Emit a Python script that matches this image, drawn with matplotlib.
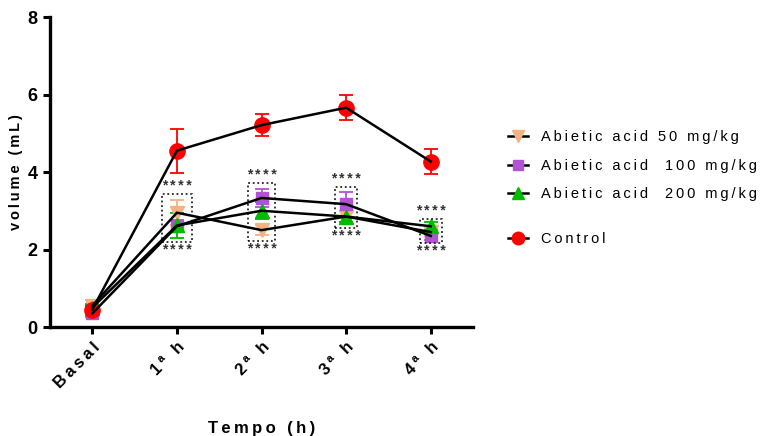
import matplotlib
matplotlib.use("Agg")
import matplotlib.pyplot as plt
from matplotlib.lines import Line2D
from matplotlib.patches import Rectangle
import numpy as np

plt.rcParams['font.family'] = ['Liberation Sans', 'DejaVu Sans']

# time points
times = ['Basal', '1ª h', '2ª h', '3ª h', '4ª h']

# paw volume (mL), mean and SEM per group
control = [0.45, 4.55, 5.21, 5.66, 4.27]
control_err = [0.10, 0.57, 0.28, 0.33, 0.32]
aa50 = [0.55, 2.95, 2.50, 2.85, 2.45]
aa50_err = [0.15, 0.33, 0.12, 0.15, 0.10]
aa100 = [0.35, 2.60, 3.33, 3.17, 2.35]
aa100_err = [0.08, 0.15, 0.24, 0.32, 0.10]
aa200 = [0.50, 2.62, 3.00, 2.85, 2.60]
aa200_err = [0.10, 0.32, 0.22, 0.15, 0.10]

# significance boxes around the treated groups (1ª h .. 4ª h)
sig_idx = [1, 2, 3, 4]
sig_lo = [2.19, 2.22, 2.55, 2.17]
sig_hi = [3.43, 3.72, 3.61, 2.79]
sig_label = '****'

groups = [
    ('Abietic acid 50 mg/kg', aa50, aa50_err, '#F4B183', 'v', 10),
    ('Abietic acid  100 mg/kg', aa100, aa100_err, '#B452D6', 's', 9),
    ('Abietic acid  200 mg/kg', aa200, aa200_err, '#00BB00', '^', 10),
    ('Control', control, control_err, '#FF0000', 'o', 11),
]


def spaced(s, sep='\u2009'):
    return sep.join(s)


fig = plt.figure(figsize=(7.63, 4.36), dpi=100)
ax = fig.add_axes([0.0655, 0.25, 0.5545, 0.711])
x = np.arange(len(times))

handles = []
for label, vals, err, color, marker, ms in groups:
    ax.errorbar(x, vals, yerr=err, fmt=marker, color=color, ms=ms,
                elinewidth=1.3, capsize=5, capthick=1.3, zorder=2)
    ax.plot(x, vals, color='black', lw=1.8, zorder=3)
    handles.append(Line2D([], [], color='black', lw=1.8, marker=marker,
                          ms=ms - 2, markerfacecolor=color,
                          markeredgecolor=color, label=spaced(label)))

half_w = [0.18, 0.16, 0.13, 0.13]
for i, lo, hi, hw in zip(sig_idx, sig_lo, sig_hi, half_w):
    ax.add_patch(Rectangle((i - hw, lo), 2 * hw, hi - lo, fill=False,
                           ls=(0, (1.2, 1.8)), lw=1.1, ec='black', zorder=4))
    ax.text(i, hi + 0.02, spaced(sig_label), ha='center', va='bottom',
            fontsize=10, fontweight='bold', color='#333333')
    ax.text(i, lo - 0.02, spaced(sig_label), ha='center', va='top',
            fontsize=10, fontweight='bold', color='#333333')

ax.set_xlim(-0.5, 4.5)
ax.set_ylim(0, 8)
ax.set_yticks([0, 2, 4, 6, 8])
ax.set_xticks(x)
ax.set_xticklabels([spaced(t) for t in times], rotation=45, ha='right',
                   rotation_mode='anchor', fontweight='bold', fontsize=12)
for lbl in ax.get_yticklabels():
    lbl.set_fontweight('bold')
    lbl.set_fontsize(13)

for side in ('top', 'right'):
    ax.spines[side].set_visible(False)
for side in ('left', 'bottom'):
    ax.spines[side].set_linewidth(2.4)
ax.tick_params(width=2.2, length=5, direction='out', pad=4)

ax.set_ylabel(spaced('volume (mL)'), fontweight='bold', fontsize=10.5,
              labelpad=3)
ax.set_xlabel(spaced('Tempo (h)'), fontweight='bold', fontsize=12,
              labelpad=22)

# treated groups and control in two blocks, control set a bit lower
leg_kw = dict(loc='upper left', frameon=False, fontsize=10.5,
              handlelength=1.4, handletextpad=0.9, borderaxespad=0)
fig.legend(handles=handles[:3], bbox_to_anchor=(0.658, 0.715),
           labelspacing=1.0, **leg_kw)
fig.legend(handles=handles[3:], bbox_to_anchor=(0.658, 0.482), **leg_kw)

fig.savefig('out.png', dpi=100)
